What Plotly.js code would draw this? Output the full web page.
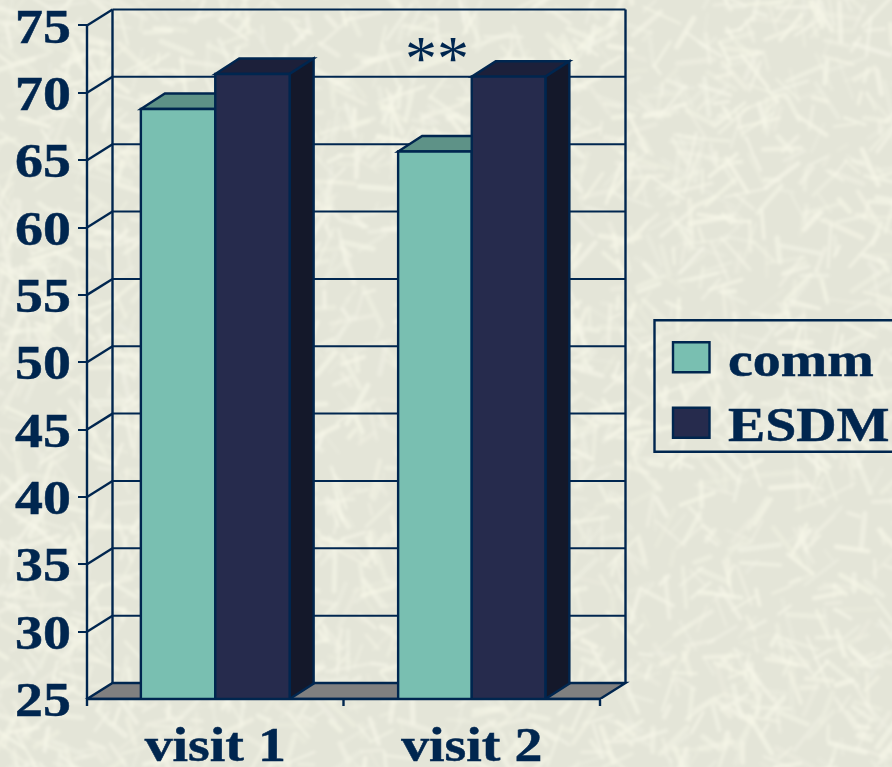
<!DOCTYPE html>
<html>
<head>
<meta charset="utf-8">
<script src="https://cdn.plot.ly/plotly-3.0.1.min.js"></script>
<style>
  html, body { margin: 0; padding: 0; background: #e8e9dc; overflow: hidden; }
  #paper { position: absolute; left: 0; top: 0; }
  #chart { position: absolute; left: 0; top: 0; width: 892px; height: 767px; }
  .xtick text, .ytick text, .annotation-text { stroke: #00264f; stroke-width: 0.5px; }
</style>
</head>
<body>
<canvas id="paper" width="892" height="767"></canvas>
<div id="chart"></div>
<script>
// Mean scores per visit
const visits = ['visit 1', 'visit 2'];
const commValues = [68.8, 65.65];
const esdmValues = [71.4, 71.2];
const yTicks = [25, 30, 35, 40, 45, 50, 55, 60, 65, 70, 75];

const W = 892, H = 767;
const NAVY = '#00264f', COMM = '#79bfb1', ESDM = '#262b4d';

// Fibre-paper backdrop: short pale strokes on a warm grey base, softened in one pass
(function drawPaper() {
  const off = document.createElement('canvas');
  off.width = W + 40; off.height = H + 40;
  const o = off.getContext('2d');
  o.fillStyle = '#e4e5d8';
  o.fillRect(0, 0, off.width, off.height);
  let s = 48271;
  const next = () => (s = (s * 16807) % 2147483647) / 2147483647;
  o.lineCap = 'round';
  for (let i = 0; i < 3000; i++) {
    const x = next() * off.width, y = next() * off.height, a = next() * Math.PI * 2, l = 10 + next() * 34;
    o.strokeStyle = 'rgba(246,246,232,' + (0.2 + next() * 0.5) + ')';
    o.lineWidth = 2.5 + next() * 3;
    o.beginPath();
    o.moveTo(x, y);
    o.lineTo(x + Math.cos(a) * l, y + Math.sin(a) * l);
    o.stroke();
  }
  const ctx = document.getElementById('paper').getContext('2d');
  ctx.filter = 'blur(1.4px)';
  ctx.drawImage(off, -20, -20);
})();

// Scales: one category = 256.5 px, one y unit = 13.48 px
const unitX = 256.5, unitY = 13.48, originX = 215.25, baseY = 699.5;
const L = 78, R = 632, T = 4;
const xRange = [(L - originX) / unitX, (R - originX) / unitX];
const yRange = [25, 25 + (baseY - T) / unitY];

// Oblique depth of the wall box and of the bars, in axis units
const wallDx = 25.5 / unitX, wallDy = 16 / unitY;
const barDx = 24 / unitX, barDy = 15.5 / unitY;
const barWidths = [0.29, 0.287];

// Paper coordinates cover the plot area only
const px = x => (x - L) / (R - L), py = y => 1 - (y - T) / (baseY - T);
const line = (x0, y0, x1, y1, w) => ({
  type: 'line', xref: 'x', yref: 'y', x0, y0, x1, y1, layer: 'below',
  line: { color: NAVY, width: w || 2.4 }
});
const poly = (pts, fill) => ({
  type: 'path', xref: 'x', yref: 'y', layer: 'below', fillcolor: fill,
  line: { color: NAVY, width: 2.4 },
  path: 'M' + pts.map(p => p[0] + ' ' + p[1]).join(' L') + ' Z'
});
const paperLine = (x0, y0, x1, y1) => ({
  type: 'line', xref: 'paper', yref: 'paper', x0: px(x0), y0: py(y0), x1: px(x1), y1: py(y1),
  layer: 'above', line: { color: NAVY, width: 2.4 }
});

const shapes = [];
const xMin = -0.5, xMax = 1.5;

// Floor
shapes.push(poly([[xMin, 25], [xMax, 25], [xMax + wallDx, 25 + wallDy], [xMin + wallDx, 25 + wallDy]], '#808080'));

// Gridlines run from the front edge across the side wall and along the back wall
yTicks.slice(1).forEach(v => {
  shapes.push(line(xMin, v, xMin + wallDx, v + wallDy));
  shapes.push(line(xMin + wallDx, v + wallDy, xMax + wallDx, v + wallDy, 2));
});

// Wall edges
shapes.push(line(xMin, 25, xMin, 75));
shapes.push(line(xMin + wallDx, 25 + wallDy, xMin + wallDx, 75 + wallDy));
shapes.push(line(xMax + wallDx, 25 + wallDy, xMax + wallDx, 75 + wallDy));

// Top and side faces of each bar
function addDepth(left, width, value, topFill, sideFill) {
  const x0 = left, x1 = left + width;
  shapes.push(poly([[x0, value], [x1, value], [x1 + barDx, value + barDy], [x0 + barDx, value + barDy]], topFill));
  shapes.push(poly([[x1, 25], [x1, value], [x1 + barDx, value + barDy], [x1 + barDx, 25 + barDy]], sideFill));
}
visits.forEach((_, i) => {
  addDepth(i - barWidths[i], barWidths[i], commValues[i], '#5e9287', '#4d7c72');
  addDepth(i, barWidths[i], esdmValues[i], '#1c203a', '#14182a');
});

// Bottom axis line and its tick marks
shapes.push(paperLine(87, baseY, 600, baseY));
[87, 343.5, 600].forEach(x => shapes.push(paperLine(x, baseY, x, baseY + 7)));

// Legend frame and swatches
const swatch = (x0, y0, x1, y1, fill) => ({
  type: 'rect', xref: 'paper', yref: 'paper', x0: px(x0), y0: py(y0), x1: px(x1), y1: py(y1),
  layer: 'above', fillcolor: fill, line: { color: NAVY, width: 2.4 }
});
shapes.push(swatch(654.5, 320.5, 905, 452, 'rgba(0,0,0,0)'));
shapes.push(swatch(673, 342.5, 709.5, 372.5, COMM));
shapes.push(swatch(673, 408, 709.5, 438, ESDM));

const serif = '"Liberation Serif", "Times New Roman", serif';
const LABEL_SIZE = 49, WIDEN = 1.14;
const legendLabel = (text, x, y) => ({
  text, xref: 'paper', yref: 'paper', x: px(x), y: py(y), xanchor: 'left', yanchor: 'middle',
  showarrow: false, align: 'left',
  font: { family: serif, size: LABEL_SIZE, color: NAVY, weight: 700 }
});

const traces = [
  { name: 'comm', type: 'bar', x: [0, 1], y: commValues, width: barWidths, offset: barWidths.map(w => -w),
    marker: { color: COMM, line: { color: NAVY, width: 2.4 } } },
  { name: 'ESDM', type: 'bar', x: [0, 1], y: esdmValues, width: barWidths, offset: 0,
    marker: { color: ESDM, line: { color: NAVY, width: 2.4 } } }
];

const layout = {
  width: W, height: H,
  margin: { l: L, r: W - R, t: T, b: H - baseY, pad: 0 },
  paper_bgcolor: 'rgba(0,0,0,0)',
  plot_bgcolor: 'rgba(0,0,0,0)',
  showlegend: false,
  barmode: 'overlay',
  xaxis: {
    range: xRange, tickmode: 'array', tickvals: [0, 1], ticktext: visits,
    ticks: '', showgrid: false, zeroline: false, showline: false,
    ticklabelstandoff: 12, ticklabeloverflow: 'allow',
    tickfont: { family: serif, size: LABEL_SIZE, color: NAVY, weight: 700 }
  },
  yaxis: {
    range: yRange, tickmode: 'array', tickvals: yTicks, ticktext: yTicks.map(String),
    ticks: 'inside', ticklen: 9, tickwidth: 2.4, tickcolor: NAVY,
    showgrid: false, zeroline: false, showline: false,
    ticklabelstandoff: 6, ticklabeloverflow: 'allow',
    tickfont: { family: serif, size: LABEL_SIZE, color: NAVY, weight: 700 }
  },
  shapes,
  annotations: [
    { text: '**', xref: 'paper', yref: 'paper', x: px(437), y: py(59), xanchor: 'center', yanchor: 'middle',
      showarrow: false, font: { family: serif, size: 64, color: NAVY } },
    legendLabel('comm', 726, 360),
    legendLabel('ESDM', 726, 425)
  ]
};

// The labels are set in a slightly extended bold serif
function widenLabels() {
  document.querySelectorAll('#chart .xtick text, #chart .ytick text, #chart .annotation-text').forEach(t => {
    if (t.textContent === '**') { t.style.stroke = 'none'; return; }
    t.setAttribute('lengthAdjust', 'spacingAndGlyphs');
    t.setAttribute('textLength', t.getComputedTextLength() * WIDEN);
  });
}

Plotly.newPlot('chart', traces, layout, { displayModeBar: false, responsive: false }).then(widenLabels);
</script>
</body>
</html>
